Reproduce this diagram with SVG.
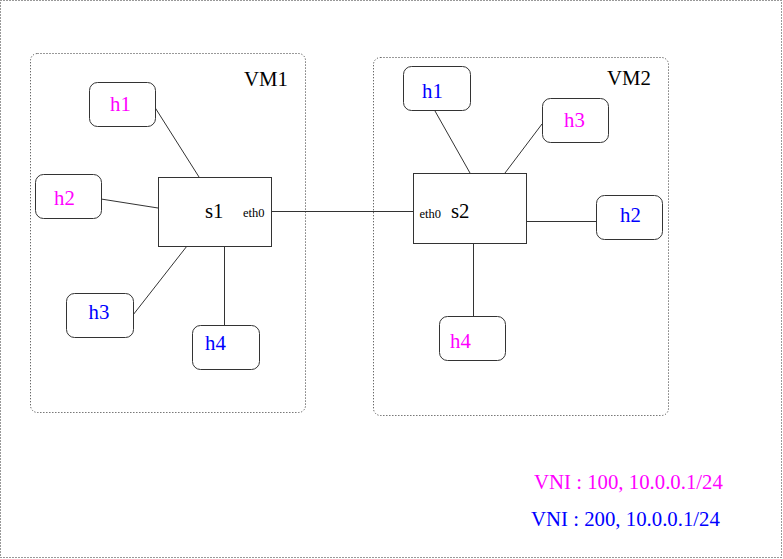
<svg xmlns="http://www.w3.org/2000/svg" width="783" height="559" viewBox="0 0 783 559">
<style>
.frame{fill:none;stroke:#333;stroke-width:1;stroke-dasharray:1,2}
.host{fill:#fff;stroke:#333;stroke-width:1}
.sw{fill:#fff;stroke:#333;stroke-width:1}
.ln{stroke:#333;stroke-width:1;fill:none}
text{font-family:"Liberation Serif","Times New Roman",serif;font-size:20.8px}
.m{fill:#ff00ff}
.b{fill:#0000ff}
.k{fill:#000}
.e{font-size:12.5px;fill:#000}
</style>
<rect class="frame" x="0.5" y="0.5" width="781" height="557"/>
<g id="vm1">
<rect class="frame" x="30.5" y="53.5" width="275" height="359" rx="7"/>
<text class="k" x="244" y="86">VM1</text>
</g>
<g id="vm2">
<rect class="frame" x="373.5" y="57.5" width="295" height="358" rx="7"/>
<text class="k" x="607" y="85">VM2</text>
</g>
<g id="connectors">
<line class="ln" x1="155" y1="107.5" x2="199" y2="177"/>
<line class="ln" x1="101" y1="199" x2="158" y2="208"/>
<line class="ln" x1="133" y1="315" x2="187" y2="246"/>
<line class="ln" x1="224.5" y1="246" x2="224.5" y2="325"/>
<line class="ln" x1="271" y1="211.5" x2="413" y2="211.5"/>
<line class="ln" x1="435" y1="111" x2="470" y2="173"/>
<line class="ln" x1="542" y1="124" x2="505" y2="173"/>
<line class="ln" x1="526" y1="221.5" x2="596" y2="221.5"/>
<line class="ln" x1="473.5" y1="243" x2="473.5" y2="316"/>
</g>
<g id="s1">
<rect class="sw" x="158.5" y="177.5" width="113" height="69"/>
<text class="k" x="205" y="218">s1</text>
<text class="e" x="243" y="217">eth0</text>
</g>
<g id="s2">
<rect class="sw" x="413.5" y="173.5" width="113" height="70"/>
<text class="e" x="419.5" y="218">eth0</text>
<text class="k" x="451" y="218">s2</text>
</g>
<g id="vm1-h1">
<rect class="host" x="89.5" y="82.5" width="66" height="44" rx="8"/>
<text class="m" x="110" y="111">h1</text>
</g>
<g id="vm1-h2">
<rect class="host" x="35.5" y="174.5" width="66" height="44" rx="8"/>
<text class="m" x="54" y="205">h2</text>
</g>
<g id="vm1-h3">
<rect class="host" x="66.5" y="293.5" width="67" height="44" rx="8"/>
<text class="b" x="88.5" y="319">h3</text>
</g>
<g id="vm1-h4">
<rect class="host" x="192.5" y="325.5" width="67" height="44" rx="8"/>
<text class="b" x="205" y="350">h4</text>
</g>
<g id="vm2-h1">
<rect class="host" x="403.5" y="66.5" width="67" height="44" rx="8"/>
<text class="b" x="422" y="98">h1</text>
</g>
<g id="vm2-h3">
<rect class="host" x="542.5" y="98.5" width="66" height="44" rx="8"/>
<text class="m" x="564" y="127">h3</text>
</g>
<g id="vm2-h2">
<rect class="host" x="596.5" y="195.5" width="66" height="44" rx="8"/>
<text class="b" x="620" y="222">h2</text>
</g>
<g id="vm2-h4">
<rect class="host" x="439.5" y="316.5" width="66" height="44" rx="8"/>
<text class="m" x="450" y="348">h4</text>
</g>
<g id="legend">
<text class="m" x="534" y="489">VNI : 100, 10.0.0.1/24</text>
<text class="b" x="531" y="526">VNI : 200, 10.0.0.1/24</text>
</g>
</svg>
